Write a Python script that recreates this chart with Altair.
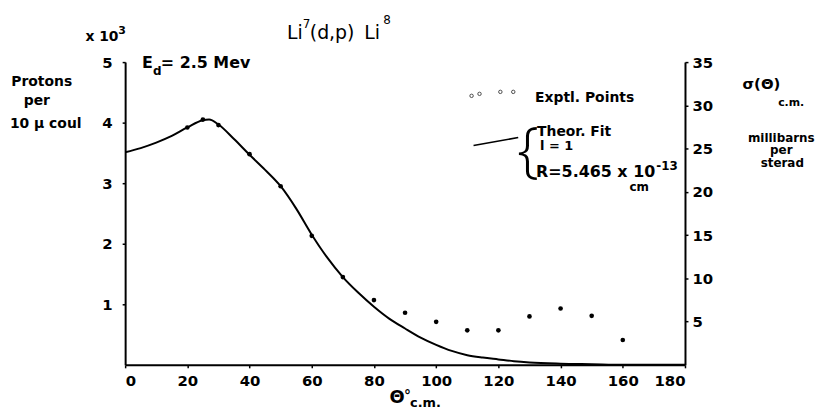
import altair as alt
import pandas as pd

# ---- data ----
theory_angle = [0, 5, 10, 15, 20, 25, 27, 30, 35, 40, 45, 50, 55, 60, 65, 70, 75, 80,
                85, 90, 95, 100, 105, 110, 115, 120, 125, 130, 140, 150, 160, 170, 180]
theory_yield = [3.51, 3.58, 3.67, 3.78, 3.92, 4.04, 4.05, 3.97, 3.73, 3.47, 3.22, 2.95,
                2.58, 2.15, 1.77, 1.45, 1.19, 0.96, 0.76, 0.60, 0.45, 0.33, 0.23, 0.16,
                0.12, 0.09, 0.06, 0.04, 0.02, 0.01, 0.0, 0.0, 0.0]
expt_angle = [20, 25, 30, 40, 50, 60, 70, 80, 90, 100, 110, 120, 130, 140, 150, 160]
expt_yield = [3.92, 4.05, 3.96, 3.48, 2.95, 2.13, 1.45, 1.07, 0.86, 0.71, 0.57, 0.57,
              0.80, 0.93, 0.81, 0.41]
x_ticks = [0, 20, 40, 60, 80, 100, 120, 140, 160, 180]
left_ticks = [1, 2, 3, 4, 5]
right_ticks = [5, 10, 15, 20, 25, 30, 35]

FONT = "DejaVu Sans"
W, H = 564, 305

theory = pd.DataFrame({"angle": theory_angle, "val": theory_yield})
expt = pd.DataFrame({"angle": expt_angle, "val": expt_yield})
one = pd.DataFrame({"a": [0]})

xscale = alt.Scale(domain=[0, 180], nice=False, zero=True)
yscale = alt.Scale(domain=[0, 5], nice=False)

xaxis = alt.Axis(values=x_ticks, title=None, labelFontSize=15, labelFontWeight="bold",
                 labelPadding=6, tickSize=3, grid=False)
yaxis = alt.Axis(values=left_ticks, title=None, labelFontSize=15, labelFontWeight="bold",
                 labelPadding=10, tickSize=3, grid=False)

curve = alt.Chart(theory).mark_line(color="black", strokeWidth=2, interpolate="monotone").encode(
    x=alt.X("angle:Q", scale=xscale, axis=xaxis),
    y=alt.Y("val:Q", scale=yscale, axis=yaxis),
)
pts = alt.Chart(expt).mark_circle(color="black", size=22, opacity=1).encode(
    x=alt.X("angle:Q", scale=xscale, axis=xaxis),
    y=alt.Y("val:Q", scale=yscale, axis=yaxis),
)
left = alt.layer(curve, pts)

right = alt.Chart(pd.DataFrame({"r": right_ticks})).mark_point(opacity=0).encode(
    y=alt.Y("r:Q", scale=alt.Scale(domain=[0, 35], nice=False),
            axis=alt.Axis(orient="right", values=right_ticks, title=None, labelFontSize=15,
                          labelFontWeight="bold", labelPadding=4, tickSize=3, grid=False)),
)

OX, OY = 126, 61  # page position of plot origin


def txt(s, px, py, size=13, align="left", weight="bold", font=FONT, baseline="alphabetic"):
    return alt.Chart(one).mark_text(text=s, fontSize=size, align=align, fontWeight=weight,
                                    font=font, baseline=baseline, color="black").encode(
        x=alt.value(px - OX), y=alt.value(py - OY))


ann = [
    # title
    txt("Li", 289, 38, 19, weight="normal"),
    txt("7", 305, 27, 12, weight="normal"),
    txt("(d,p)", 312, 38, 19, weight="normal"),
    txt("Li", 367, 38, 19, weight="normal"),
    txt("8", 386, 23, 12, weight="normal"),
    # left axis unit
    txt("x 10", 86, 40, 14),
    txt("3", 119, 33, 11),
    txt("E", 143, 67, 16),
    txt("d", 154, 74, 12),
    txt("= 2.5 Mev", 162, 67, 16),
    txt("Protons", 42, 85, 14, align="center"),
    txt("per", 37, 104, 14, align="center"),
    txt("10 \u03bc coul", 46, 127, 14, align="center"),
    # legend
    txt("Exptl. Points", 539, 101, 14),
    txt("{", 532, 152, 62, align="center", weight=300, font="Open Sans",
        baseline="middle"),
    txt("Theor.   Fit", 541, 135, 14),
    txt("l = 1", 544, 150, 13),
    txt("R=5.465 x 10", 540, 177, 16),
    txt("-13", 661, 170, 12),
    txt("cm", 634, 191, 12),
    # right axis title
    txt("\u03c3(\u0398)", 767, 88, 15, align="center"),
    txt("c.m.", 797, 105, 11, align="center"),
    txt("millibarns", 787, 141, 12, align="center"),
    txt("per", 787, 154, 12, align="center"),
    txt("sterad", 788, 167, 12, align="center"),
    # x axis title
    txt("\u0398", 400, 404, 18, align="center"),
    txt("\u00b0", 407, 401, 14),
    txt("c.m.", 413, 408, 13),
]

legend_circles = [
    alt.Chart(one).mark_point(shape="circle", filled=False, color="black", size=12,
                              strokeWidth=1).encode(x=alt.value(px - OX), y=alt.value(py - OY))
    for px, py in [(475, 95), (483, 93), (504, 91), (517, 91)]
]
legend_line = alt.Chart(one).mark_rule(color="black", strokeWidth=1.6).encode(
    x=alt.value(477 - OX), x2=alt.value(522 - OX), y=alt.value(145 - OY), y2=alt.value(137 - OY))

chart = alt.layer(left, right, legend_line, *legend_circles, *ann).resolve_scale(
    y="independent"
).properties(
    width=W, height=H,
    autosize=alt.AutoSizeParams(type="none"),
    padding={"left": OX - 8, "top": OY - 8, "right": 135, "bottom": 45},
).configure_view(stroke=None).configure_axis(
    domainColor="black", domainWidth=2, tickColor="black", tickWidth=1.5,
    labelColor="black", labelFont=FONT,
)

chart.save("out.html", embed_options={"renderer": "svg", "actions": False})
